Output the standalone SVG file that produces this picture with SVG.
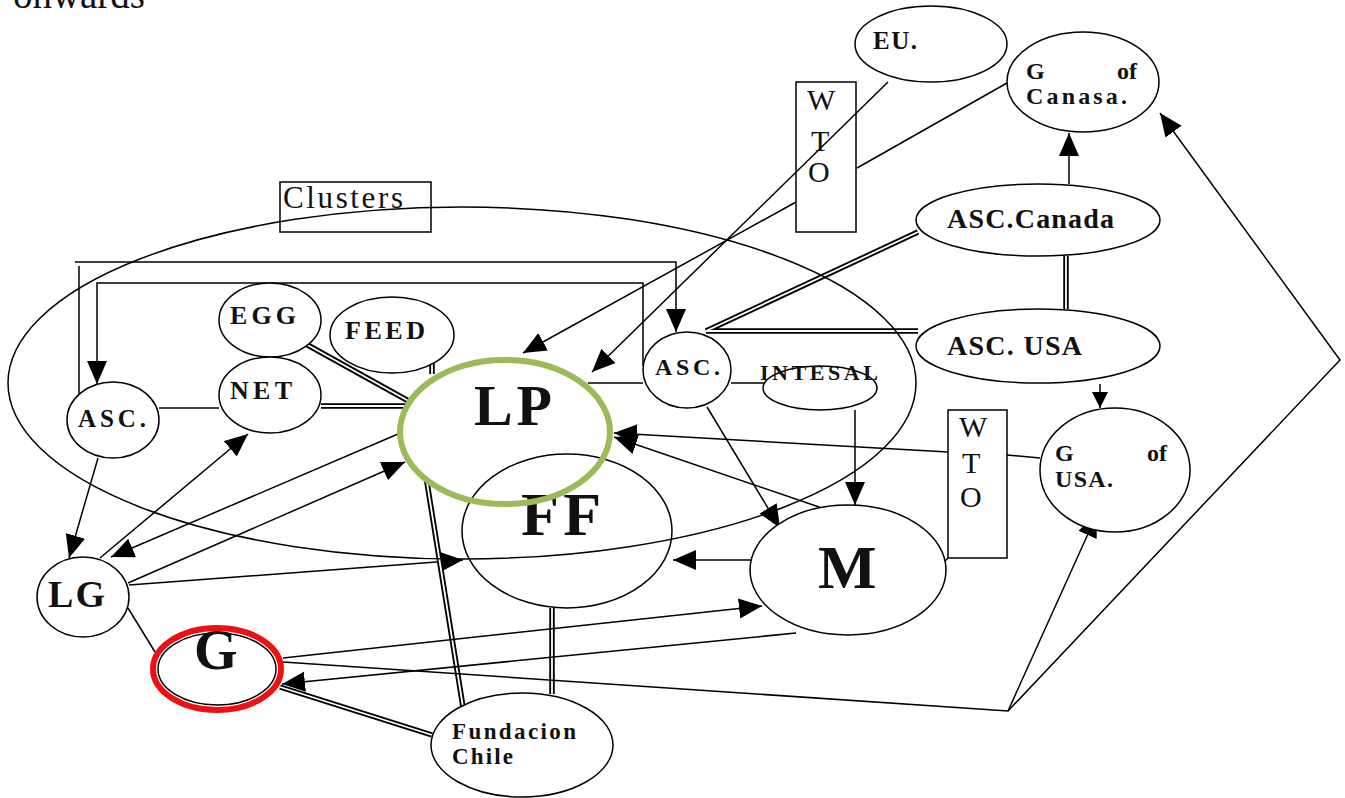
<svg xmlns="http://www.w3.org/2000/svg" width="1345" height="798" viewBox="0 0 1345 798">
<defs>
<marker id="ah" markerUnits="userSpaceOnUse" markerWidth="26" markerHeight="22" refX="23" refY="10" orient="auto"><path d="M0,0 L23,10 L0,20 z" fill="#000"/></marker>
<marker id="ahs" markerUnits="userSpaceOnUse" markerWidth="20" markerHeight="18" refX="16" refY="8" orient="auto"><path d="M0,0 L16,8 L0,16 z" fill="#000"/></marker>
<style>
.ln{fill:none;stroke:#000;stroke-width:1.5}
.arr{fill:none;stroke:#000;stroke-width:1.5;marker-end:url(#ah)}
.arrs{fill:none;stroke:#000;stroke-width:1.5;marker-end:url(#ahs)}
.d1{fill:none;stroke:#000;stroke-width:5.5}
.d2{fill:none;stroke:#fff;stroke-width:1.8}
.nd{fill:#fff;stroke:#000;stroke-width:1.5}
.box{fill:none;stroke:#000;stroke-width:1.5}
.t{font-family:"Liberation Serif",serif;font-weight:bold;fill:#111}
.r{font-family:"Liberation Serif",serif;fill:#111}
</style>
</defs>
<rect width="1345" height="798" fill="#fff"/>
<text class="r" x="0" y="8" font-size="39" textLength="145">-onwards</text>

<g id="connectors">
<polyline class="arr" points="75,262 676,262 676,332"/>
<line class="ln" x1="79" y1="266" x2="79" y2="394"/>
<polyline class="arr" points="643,366 643,283 97,283 97,384"/>
<line class="ln" x1="159" y1="408" x2="219" y2="408"/>
<line class="arr" x1="98" y1="458" x2="69" y2="558"/>
<line class="arr" x1="100" y1="558" x2="248" y2="434"/>
<line class="arr" x1="398" y1="434" x2="111" y2="557"/>
<line class="arr" x1="128" y1="583" x2="405" y2="462"/>
<line class="arr" x1="129" y1="585" x2="463" y2="560"/>
<g id="double-lines">
<path class="d1" d="M321,406 L410,406 M304,343 L414,404 M432,359 L432,374 M425,470 L463,707 M552,608 L552,694 M432,735 L280,687 M918,232 L706,331 M918,331 L706,331 M1066,256 L1066,309"/>
<path class="d2" d="M321,406 L410,406 M304,343 L414,404 M432,359 L432,374 M425,470 L463,707 M552,608 L552,694 M432,735 L280,687 M918,232 L706,331 M918,331 L706,331 M1066,256 L1066,309"/>
</g>
<line class="arr" x1="796" y1="633" x2="282" y2="684"/>
<line class="arr" x1="283" y1="658" x2="762" y2="606"/>
<polyline class="arr" points="283,662 1008,711 1097,514"/>
<polyline class="arr" points="1008,711 1340,360 1160,113"/>
<line class="ln" x1="128" y1="608" x2="155" y2="652"/>
<line class="ln" x1="588" y1="383" x2="643" y2="383"/>
<line class="ln" x1="731" y1="383" x2="764" y2="383"/>
<line class="arr" x1="855" y1="410" x2="855" y2="505"/>
<line class="arr" x1="707" y1="407" x2="780" y2="528"/>
<line class="arr" x1="822" y1="508" x2="614" y2="437"/>
<line class="ln" x1="1040" y1="458" x2="1007" y2="455"/>
<line class="arr" x1="948" y1="452" x2="614" y2="433"/>
<line class="arr" x1="752" y1="560" x2="673" y2="560"/>
<line class="ln" x1="945" y1="561" x2="948" y2="558"/>
<line class="arr" x1="888" y1="82" x2="592" y2="372"/>
<line class="ln" x1="1007" y1="83" x2="857" y2="168"/>
<line class="arr" x1="796" y1="202" x2="523" y2="353"/>
<line class="arr" x1="1069" y1="184" x2="1069" y2="133"/>
<line class="arrs" x1="1100" y1="384" x2="1100" y2="408"/>
</g>

<g id="wto-top"><rect class="box" x="796" y="82" width="60" height="150"/>
<text class="r" x="807" y="110" font-size="30">W</text><text class="r" x="811" y="151" font-size="30">T</text><text class="r" x="808" y="182" font-size="30">O</text></g>
<g id="wto-right"><rect class="box" x="948" y="410" width="59" height="148"/>
<text class="r" x="959" y="437" font-size="30">W</text><text class="r" x="962" y="473" font-size="30">T</text><text class="r" x="960" y="507" font-size="30">O</text></g>

<g id="eu"><ellipse class="nd" cx="931" cy="44" rx="76" ry="38"/><text class="t" x="873" y="49" font-size="25" textLength="44">EU.</text></g>
<g id="g-canasa"><ellipse class="nd" cx="1083" cy="82" rx="76" ry="50"/><text class="t" font-size="24"><tspan x="1026" y="79">G</tspan><tspan x="1117" y="79">of</tspan><tspan x="1026" y="104" textLength="101">Canasa.</tspan></text></g>
<g id="asc-canada"><ellipse class="nd" cx="1038" cy="220" rx="122" ry="36"/><text class="t" x="947" y="228" font-size="28" textLength="167">ASC.Canada</text></g>
<g id="asc-usa"><ellipse class="nd" cx="1038" cy="346" rx="122" ry="37"/><text class="t" x="947" y="355" font-size="28" textLength="135">ASC. USA</text></g>
<g id="g-usa"><ellipse class="nd" cx="1115" cy="470" rx="75" ry="62"/><text class="t" font-size="24"><tspan x="1055" y="461">G</tspan><tspan x="1147" y="461">of</tspan><tspan x="1055" y="487" textLength="58">USA.</tspan></text></g>
<g id="m"><ellipse class="nd" cx="848" cy="570" rx="98" ry="65"/><text class="t" x="818" y="588" font-size="62" textLength="60">M</text></g>
<g id="lp"><ellipse class="nd" cx="505" cy="432" rx="105" ry="72"/><text class="t" x="474" y="425" font-size="58" textLength="78">LP</text></g>
<g id="ff"><ellipse class="nd" cx="567" cy="531" rx="105" ry="77"/><text class="t" x="521" y="535" font-size="62" textLength="80">FF</text></g>
<g id="asc-center"><ellipse class="nd" cx="687" cy="370" rx="44" ry="38"/><text class="t" x="655" y="375" font-size="24" textLength="65">ASC.</text></g>
<g id="intesal"><ellipse class="nd" cx="820" cy="388" rx="57" ry="22"/><text class="t" x="760" y="380" font-size="22" textLength="118">INTESAL</text></g>
<g id="fundacion-chile"><ellipse class="nd" cx="522" cy="745" rx="91" ry="52"/><text class="t" font-size="23"><tspan x="452" y="739" textLength="124">Fundacion</tspan><tspan x="452" y="764" textLength="61">Chile</tspan></text></g>
<g id="g"><ellipse class="nd" cx="217" cy="669" rx="59" ry="36"/><text class="t" x="194" y="669" font-size="56" textLength="47">G</text></g>
<g id="lg"><ellipse class="nd" cx="83" cy="597" rx="46" ry="40"/><text class="t" x="48" y="607" font-size="38" textLength="57">LG</text></g>
<g id="asc-left"><ellipse class="nd" cx="113" cy="420" rx="46" ry="38"/><text class="t" x="78" y="427" font-size="25" textLength="68">ASC.</text></g>
<g id="egg"><ellipse class="nd" cx="270" cy="320" rx="51" ry="37"/><text class="t" x="230" y="324" font-size="26" textLength="66">EGG</text></g>
<g id="feed"><ellipse class="nd" cx="392" cy="335" rx="62" ry="38"/><text class="t" x="345" y="339" font-size="26" textLength="80">FEED</text></g>
<g id="net"><ellipse class="nd" cx="270" cy="395" rx="51" ry="38"/><text class="t" x="230" y="399" font-size="26" textLength="62">NET</text></g>

<g id="clusters">
<ellipse cx="462" cy="383" rx="454" ry="176" fill="none" stroke="#000" stroke-width="1.5"/>
<rect class="box" x="280" y="182" width="151" height="50"/>
<text class="r" x="283" y="208" font-size="31" textLength="120">Clusters</text>
</g>

<g id="highlights">
<ellipse cx="505" cy="432" rx="105" ry="72" fill="none" stroke="#9bbb59" stroke-width="6"/>
<ellipse cx="217" cy="669" rx="64" ry="41" fill="none" stroke="#ee1111" stroke-width="6"/>
</g>
</svg>
